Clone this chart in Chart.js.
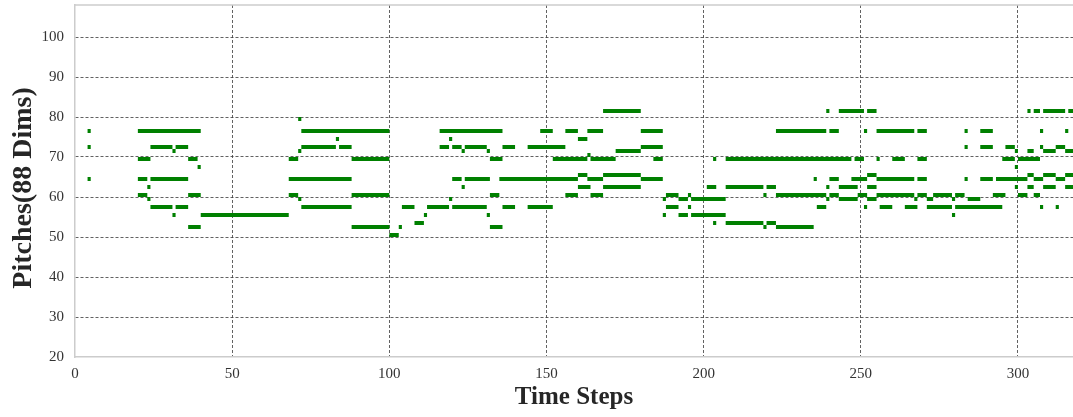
<!DOCTYPE html>
<html>
<head>
<meta charset="utf-8">
<script src="https://cdn.jsdelivr.net/npm/chart.js@4.4.1/dist/chart.umd.min.js"></script>
<style>
  html, body { margin: 0; padding: 0; background: #fff; overflow: hidden; }
  #wrap { width: 1073px; height: 417px; }
</style>
</head>
<body>
<div id="wrap"><canvas id="rollChart" width="1073" height="417"></canvas></div>
<script>
// piano roll: [onset, offset] in time steps, one list per pitch
var p81 = [[168,180],[239,240],[243,251],[252,255],[303,304],[305,307],[308,315],[316,318]];
var p79 = [[71,72]];
var p76 = [[4,5],[20,40],[72,100],[116,136],[148,152],[156,160],[163,168],[180,187],[223,239],[240,243],[251,252],[255,267],[268,271],[283,284],[288,292],[307,308],[315,316]];
var p74 = [[83,84],[119,120],[160,163]];
var p72 = [[4,5],[24,31],[32,36],[72,83],[84,88],[116,119],[120,123],[124,131],[136,140],[144,156],[180,187],[283,284],[288,292],[296,299],[307,308],[312,315]];
var p71 = [[31,32],[71,72],[123,124],[131,132],[172,180],[299,300],[303,305],[308,312],[315,318]];
var p70 = [[163,164]];
var p69 = [[20,24],[36,39],[68,71],[88,100],[132,136],[152,163],[164,172],[184,187],[203,204],[207,247],[248,251],[255,256],[260,264],[268,271],[295,299],[300,307]];
var p67 = [[39,40],[299,300]];
var p65 = [[160,163],[168,180],[252,255],[303,305],[308,312],[315,318]];
var p64 = [[4,5],[20,23],[24,36],[68,88],[120,123],[124,132],[135,160],[163,168],[180,187],[235,236],[240,243],[247,252],[255,267],[268,271],[283,284],[288,292],[293,303],[305,308],[312,315]];
var p62 = [[23,24],[123,124],[160,164],[168,180],[201,204],[207,219],[220,223],[239,240],[243,249],[252,255],[299,300],[303,305],[308,312],[315,318]];
var p60 = [[20,23],[36,40],[68,71],[88,100],[132,135],[156,160],[164,168],[188,192],[195,196],[219,220],[223,239],[240,243],[249,252],[255,267],[268,271],[273,279],[280,283],[292,296],[300,303],[305,307]];
var p59 = [[23,24],[71,72],[119,120],[187,188],[192,195],[196,207],[239,240],[243,249],[252,255],[267,268],[271,273],[279,280],[284,288]];
var p57 = [[24,31],[32,36],[72,88],[104,108],[112,119],[120,131],[136,140],[144,152],[188,192],[195,196],[236,239],[251,252],[256,260],[264,268],[271,279],[280,295],[307,308],[312,313]];
var p55 = [[31,32],[40,68],[111,112],[131,132],[187,188],[192,195],[196,207],[279,280]];
var p53 = [[108,111],[203,204],[207,219],[220,223]];
var p52 = [[36,40],[88,100],[103,104],[132,136],[219,220],[223,235]];
var p50 = [[100,103]];

var pitchRows = [[81,p81],[79,p79],[76,p76],[74,p74],[72,p72],[71,p71],[70,p70],[69,p69],[67,p67],
  [65,p65],[64,p64],[62,p62],[60,p60],[59,p59],[57,p57],[55,p55],[53,p53],[52,p52],[50,p50]];

var yTicks = [20, 30, 40, 50, 60, 70, 80, 90, 100];
var xTicks = [0, 50, 100, 150, 200, 250, 300];
var yRange = [20, 108]; // 88 keys
var xRange = [0, 317.5]; // picture is cut on the right

//each note becomes a short flat segment across its pitch cell, null breaks the line
function buildNotePoints(){
  var points = [];
  for (var i = 0; i < pitchRows.length; i++){
    var pitch = pitchRows[i][0];
    var notes = pitchRows[i][1];
    for (var n = 0; n < notes.length; n++){
      points.push({x: notes[n][0], y: pitch + 0.5});
      points.push({x: notes[n][1], y: pitch + 0.5});
      points.push({x: notes[n][1], y: null});
    }
  }
  return points;
}

var topBorder = {
  id: 'topBorder',
  afterDraw: function(chart){
    var a = chart.chartArea;
    var ctx = chart.ctx;
    ctx.save();
    ctx.strokeStyle = '#cccccc';
    ctx.lineWidth = 1.5;
    ctx.beginPath();
    ctx.moveTo(a.left, a.top);
    ctx.lineTo(a.right, a.top);
    ctx.stroke();
    ctx.restore();
  }
};

function gridColor(skipValue){
  return function(c){
    if (c.tick && c.tick.value === skipValue) return 'rgba(0,0,0,0)';
    return '#3a3a3a';
  };
}

var tickFont = {family: '"Liberation Serif", "Times New Roman", serif', size: 15};
var titleFamily = '"Liberation Serif", "Times New Roman", serif';

var ctx = document.getElementById('rollChart').getContext('2d');
var chart = new Chart(ctx, {
  type: 'line',
  data: {
    datasets: [{
      label: 'notes',
      data: buildNotePoints(),
      borderColor: '#008000',
      backgroundColor: '#008000',
      borderWidth: 4,
      borderCapStyle: 'butt',
      pointRadius: 0,
      pointHoverRadius: 0,
      spanGaps: false,
      tension: 0
    }]
  },
  options: {
    responsive: false,
    animation: false,
    devicePixelRatio: 1,
    events: [],
    layout: {padding: {top: 5, right: 0, bottom: 0, left: 0}},
    plugins: {legend: {display: false}, tooltip: {enabled: false}},
    scales: {
      x: {
        type: 'linear',
        min: xRange[0],
        max: xRange[1],
        afterBuildTicks: function(s){ s.ticks = xTicks.map(function(v){ return {value: v}; }); },
        afterFit: function(s){ s.height = 60; s.paddingLeft = 0; s.paddingRight = 0; },
        ticks: {font: tickFont, color: '#333333', padding: 8, maxRotation: 0, autoSkip: false},
        grid: {color: gridColor(0), lineWidth: 0.8, drawTicks: false},
        border: {display: true, color: '#cccccc', width: 1.5, dash: [3, 2]},
        title: {display: true, text: 'Time Steps', color: '#262626',
          font: {family: titleFamily, size: 25, weight: 'bold'}, padding: {top: 0, bottom: 4}}
      },
      y: {
        type: 'linear',
        min: yRange[0],
        max: yRange[1],
        afterBuildTicks: function(s){ s.ticks = yTicks.map(function(v){ return {value: v}; }); },
        afterFit: function(s){ s.width = 75; s.paddingTop = 0; s.paddingBottom = 0; },
        ticks: {font: tickFont, color: '#333333', padding: 11},
        grid: {color: gridColor(20), lineWidth: 0.8, drawTicks: false},
        border: {display: true, color: '#cccccc', width: 1.5, dash: [3, 2]},
        //trailing spaces nudge the label a bit lower, like the original
        title: {display: true, text: 'Pitches(88 Dims)  ', color: '#262626',
          font: {family: titleFamily, size: 28, weight: 'bold'}, padding: {top: 7, bottom: 0}}
      }
    }
  },
  plugins: [topBorder]
});
</script>
</body>
</html>
